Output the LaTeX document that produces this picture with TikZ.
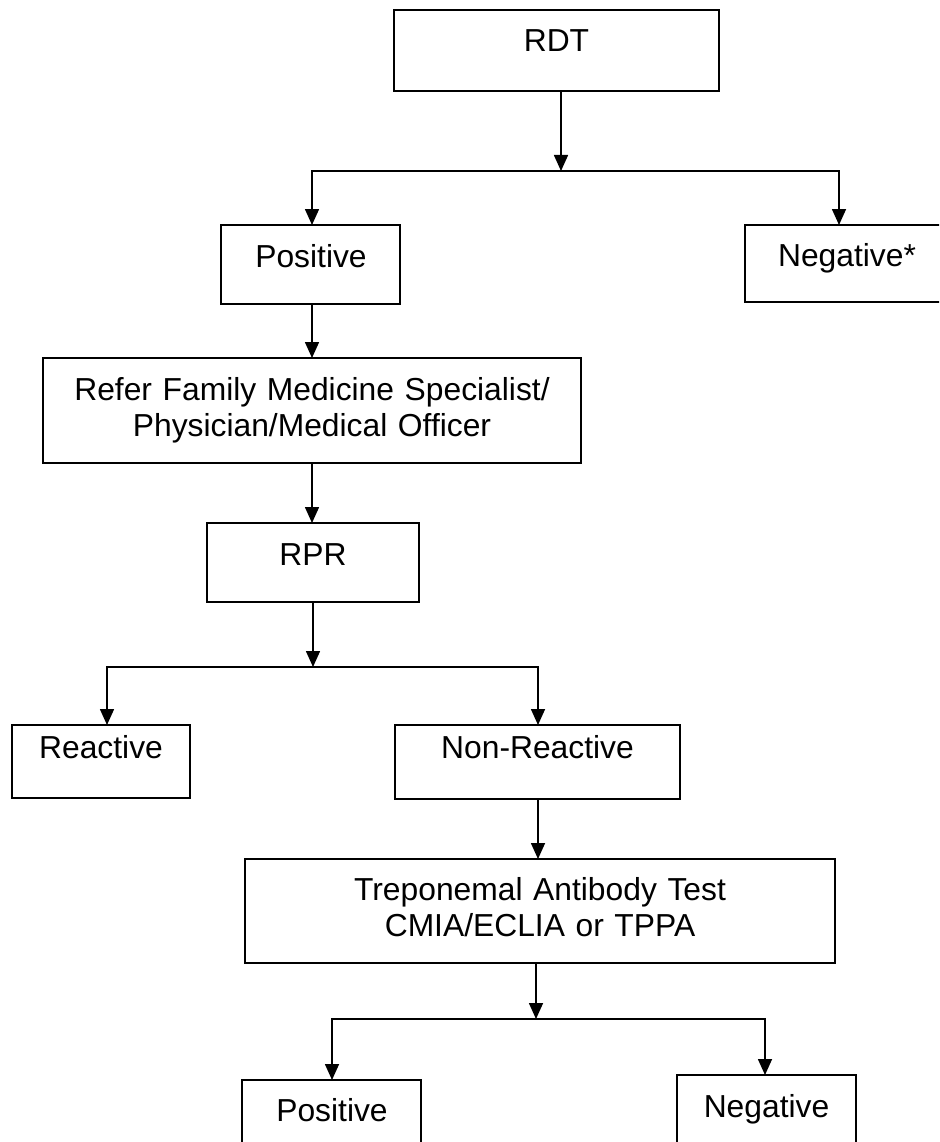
\documentclass[tikz,border=0pt]{standalone}
\usepackage{fontspec}
\setmainfont{Liberation Sans}
\usetikzlibrary{arrows.meta}
\tikzset{
  box/.style={draw, line width=1.6pt, inner sep=0pt, outer sep=0pt},
  lbl/.style={inner sep=0pt, anchor=base, align=center, text width=620pt, font=\fontsize{31.8}{36}\selectfont},
  arr/.style={line width=1.6pt, -{Triangle[length=16pt,width=14pt]}},
  ln/.style={line width=1.6pt, line cap=rect}
}
\begin{document}
\begin{tikzpicture}[x=1pt,y=-1pt]
\useasboundingbox (0,0) rectangle (939,1142);
\clip (0,0) rectangle (939,1142);
\fill[white] (0,0) rectangle (939,1142);
% boxes
\node[box, minimum width=325pt, minimum height=81pt] (rdt) at (556.5,50.5) {};
\node[box, minimum width=179pt, minimum height=79pt] (pos1) at (310.5,264.5) {};
\node[box, minimum width=204pt, minimum height=77pt] (neg1) at (847,263.5) {};
\node[box, minimum width=538pt, minimum height=105pt] (refer) at (312,410.5) {};
\node[box, minimum width=212pt, minimum height=79pt] (rpr) at (313,562.5) {};
\node[box, minimum width=178pt, minimum height=73pt] (react) at (101,761.5) {};
\node[box, minimum width=285pt, minimum height=74pt] (nonr) at (537.5,762) {};
\node[box, minimum width=590pt, minimum height=104pt] (trep) at (540,911) {};
\node[box, minimum width=179pt, minimum height=90pt] (pos2) at (331.5,1125) {};
\node[box, minimum width=179pt, minimum height=95pt] (neg2) at (766.5,1122.5) {};
% texts
\node[lbl] (rdt-t) at (556.5,52) {RDT};
\node[lbl] (pos1-t) at (311,267) {Positive};
\node[lbl] (neg1-t) at (847,266) {Negative*};
\node[lbl] (refer-t) at (312,400) {Refer Family Medicine Specialist/\\Physician/Medical Officer};
\node[lbl] (rpr-t) at (313,565) {RPR};
\node[lbl] (react-t) at (101,758) {Reactive};
\node[lbl] (nonr-t) at (537.5,758) {Non-Reactive};
\node[lbl] (trep-t) at (540,900) {Treponemal Antibody Test\\CMIA/ECLIA or TPPA};
\node[lbl] (pos2-t) at (332,1121) {Positive};
\node[lbl] (neg2-t) at (766.5,1117) {Negative};
% connectors level 1
\coordinate (j1) at (561,171);
\coordinate (j1l) at (312,171);
\coordinate (j1r) at (839,171);
\draw[arr] (rdt.south -| j1) -- (j1);
\draw[ln] (j1l) -- (j1r);
\draw[arr] (j1l) -- (j1l |- pos1.north);
\draw[arr] (j1r) -- (j1r |- neg1.north);
\draw[arr] (pos1.south -| j1l) -- (j1l |- refer.north);
\draw[arr] (refer.south) -- (refer.south |- rpr.north);
% level 2
\coordinate (j2) at (313,667);
\coordinate (j2l) at (107,667);
\coordinate (j2r) at (538,667);
\draw[arr] (rpr.south) -- (j2);
\draw[ln] (j2l) -- (j2r);
\draw[arr] (j2l) -- (j2l |- react.north);
\draw[arr] (j2r) -- (j2r |- nonr.north);
\draw[arr] (nonr.south -| j2r) -- (j2r |- trep.north);
% level 3
\coordinate (j3) at (536,1019);
\coordinate (j3l) at (332,1019);
\coordinate (j3r) at (765,1019);
\draw[arr] (trep.south -| j3) -- (j3);
\draw[ln] (j3l) -- (j3r);
\draw[arr] (j3l) -- (j3l |- pos2.north);
\draw[arr] (j3r) -- (j3r |- neg2.north);
\end{tikzpicture}
\end{document}
